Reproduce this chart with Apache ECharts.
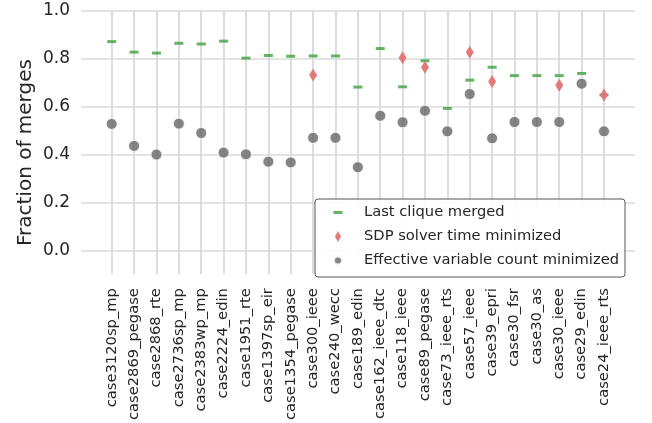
<!DOCTYPE html>
<html>
<head>
<meta charset="utf-8">
<script src="https://cdn.jsdelivr.net/npm/echarts@6/dist/echarts.min.js"></script>
<style>html,body{margin:0;padding:0;background:#fff}#c{width:652px;height:423px}</style>
</head>
<body>
<div id="c"></div>
<script>
var categories = ['case3120sp_mp','case2869_pegase','case2868_rte','case2736sp_mp','case2383wp_mp','case2224_edin','case1951_rte','case1397sp_eir','case1354_pegase','case300_ieee','case240_wecc','case189_edin','case162_ieee_dtc','case118_ieee','case89_pegase','case73_ieee_rts','case57_ieee','case39_epri','case30_fsr','case30_as','case30_ieee','case29_edin','case24_ieee_rts'];
var lastClique = [0.872,0.828,0.824,0.865,0.862,0.874,0.803,0.814,0.811,0.812,0.812,0.682,0.843,0.683,0.792,0.593,0.711,0.765,0.730,0.730,0.730,0.739,0.649];
var sdpTime = [null,null,null,null,null,null,null,null,null,0.732,null,null,null,0.805,0.765,null,0.828,0.705,null,null,0.690,null,0.649];
var effVar = [0.528,0.436,0.400,0.529,0.490,0.408,0.401,0.370,0.367,0.470,0.470,0.347,0.562,0.535,0.583,0.497,0.653,0.468,0.536,0.536,0.536,0.696,0.497];
var seriesNames = ['Last clique merged','SDP solver time minimized','Effective variable count minimized'];
var yTickValues = [0.0,0.2,0.4,0.6,0.8,1.0];

function pairs(arr){
  var out = [];
  for (var i = 0; i < arr.length; i++) { if (arr[i] !== null) out.push([i, arr[i]]); }
  return out;
}

var FONT = 'DejaVu Sans';
var TXT = '#262626';
var GRIDC = '#dadada';
var chart = echarts.init(document.getElementById('c'), null, {renderer:'canvas'});
chart.setOption({
  animation:false,
  backgroundColor:'#ffffff',
  grid:[
    {left:81, top:11, width:554, height:240},
    {left:111.7, top:11, width:492.3, height:264}
  ],
  xAxis:[
    {gridIndex:0, type:'value', show:false},
    {gridIndex:1, type:'value', min:0, max:categories.length - 1, interval:1,
     axisLine:{show:false}, axisTick:{show:false},
     axisLabel:{rotate:90, margin:14, fontFamily:FONT, fontSize:14.7, color:TXT,
       showMinLabel:true, showMaxLabel:true,
       formatter:function(v){return categories[Math.round(v)] || '';}},
     splitLine:{show:false}}
  ],
  yAxis:[
    {gridIndex:0, type:'value', min:yTickValues[0], max:yTickValues[yTickValues.length-1], interval:0.2,
     axisLine:{show:false}, axisTick:{show:false},
     axisLabel:{margin:11, fontFamily:FONT, fontSize:17, color:TXT,
       formatter:function(v){return v.toFixed(1);}},
     splitLine:{show:true, lineStyle:{color:GRIDC, width:1.7}}},
    {gridIndex:1, type:'value', min:-0.1, max:1.0,
     axisLine:{show:false}, axisTick:{show:false}, axisLabel:{show:false}, splitLine:{show:false},
     name:'Fraction of merges', nameLocation:'middle', nameGap:76,
     nameTextStyle:{fontFamily:FONT, fontSize:20, color:TXT, padding:[0,20,0,0]}}
  ],
  legend:{
    orient:'vertical', left:315, top:199, z:20,
    padding:[6,6,9,12], itemWidth:31, itemHeight:12, itemGap:9,
    backgroundColor:'rgba(255,255,255,0.92)', borderColor:'#555555', borderWidth:1, borderRadius:3,
    textStyle:{fontFamily:FONT, fontSize:14.7, color:TXT},
    data:[
      {name:seriesNames[0], icon:'path://M0,0 M31,12 M5.5,4.5 L14.5,4.5 L14.5,7.5 L5.5,7.5 Z'},
      {name:seriesNames[1], icon:'path://M0,0 M31,12 M10,0.5 L13,6 L10,11.5 L7,6 Z'},
      {name:seriesNames[2], icon:'path://M0,0 M31,12 M6,6 A4,4 0 1,0 14,6 A4,4 0 1,0 6,6 Z'}
    ]
  },
  series:[
    {name:'vgrid', type:'scatter', xAxisIndex:1, yAxisIndex:1, data:[], silent:true,
     markLine:{silent:true, symbol:['none','none'], label:{show:false}, animation:false,
       lineStyle:{color:GRIDC, width:1.8, type:'solid'},
       emphasis:{disabled:true},
       data:categories.map(function(c, i){ return {xAxis:i}; })}},
    {name:seriesNames[0], type:'scatter', xAxisIndex:1, yAxisIndex:1, data:pairs(lastClique),
     symbol:'rect', symbolSize:[9,3], clip:false, z:7,
     itemStyle:{color:'#3fa13f'}},
    {name:seriesNames[1], type:'scatter', xAxisIndex:1, yAxisIndex:1, data:pairs(sdpTime),
     symbol:'diamond', symbolSize:[8,13], clip:false, z:8,
     itemStyle:{color:'#e27474', opacity:0.95}},
    {name:seriesNames[2], type:'scatter', xAxisIndex:1, yAxisIndex:1, data:pairs(effVar),
     symbol:'circle', symbolSize:11, clip:false, z:9,
     itemStyle:{color:'#666666', borderColor:'#ffffff', borderWidth:1}}
  ]
});
</script>
</body>
</html>
